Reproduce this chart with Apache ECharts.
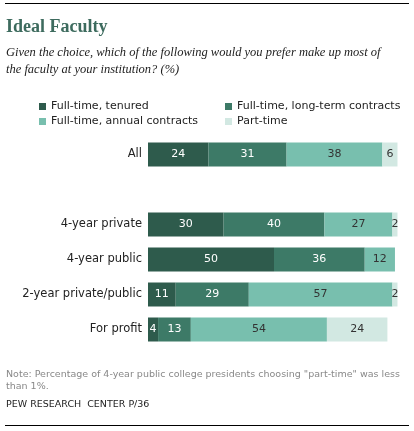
<!DOCTYPE html>
<html>
<head>
<meta charset="utf-8">
<script src="https://cdn.jsdelivr.net/npm/echarts@6/dist/echarts.min.js"></script>
<style>
  body { margin: 0; background: #fff; }
  #chart { width: 414px; height: 431px; }
</style>
</head>
<body>
<div id="chart"></div>
<script>
const categories = ["All", "", "4-year private", "4-year public", "2-year private/public", "For profit"];
const tenured = [24, null, 30, 50, 11, 4];
const longTerm = [31, null, 40, 36, 29, 13];
const annual = [38, null, 27, 12, 57, 54];
const partTime = [6, null, 2, null, 2, 24];

const names = ["Full-time, tenured", "Full-time, long-term contracts", "Full-time, annual contracts", "Part-time"];
const colors = ["#2e5b4c", "#3d7a67", "#78bfae", "#d2e8e2"];
const labelColors = ["#fff", "#fff", "#333", "#333"];
const values = [tenured, longTerm, annual, partTime];

const chart = echarts.init(document.getElementById("chart"));

const series = values.map((vals, i) => ({
  name: names[i],
  type: "bar",
  stack: "total",
  barWidth: 24,
  data: vals,
  itemStyle: { color: colors[i] },
  label: {
    show: true,
    position: "inside",
    color: labelColors[i],
    fontFamily: "DejaVu Sans",
    fontSize: 11,
    formatter: (p) => (p.value == null ? "" : p.value),
  },
}));

const legendText = { fontFamily: "DejaVu Sans", fontSize: 11, color: "#222" };

chart.setOption({
  animation: false,
  graphic: [
    { type: "rect", shape: { x: 5, y: 3, width: 404, height: 1 }, style: { fill: "#000" } },
    { type: "rect", shape: { x: 5, y: 425, width: 404, height: 1 }, style: { fill: "#000" } },
    { type: "text", left: 6, top: 18, style: { text: "Ideal Faculty", font: "bold 18px 'Liberation Serif', 'DejaVu Serif', serif", fill: "#3d6b5e" } },
    { type: "text", left: 6, top: 44, style: { text: "Given the choice, which of the following would you prefer make up most of\nthe faculty at your institution? (%)", font: "italic 12.5px 'Liberation Serif', serif", fill: "#222", lineHeight: 17 } },
    { type: "text", left: 6, top: 369, style: { text: "Note: Percentage of 4-year public college presidents choosing \"part-time\" was less\nthan 1%.", font: "9.5px 'DejaVu Sans', sans-serif", fill: "#888", lineHeight: 12 } },
    { type: "text", left: 6, top: 400, style: { text: "PEW RESEARCH  CENTER P/36", font: "9.5px 'DejaVu Sans', sans-serif", fill: "#222" } },
  ],
  legend: [
    { data: [names[0], names[2]], orient: "vertical", left: 34, top: 96, itemWidth: 7, itemHeight: 7, itemGap: 4, icon: "rect", textStyle: legendText, selectedMode: false },
    { data: [names[1], names[3]], orient: "vertical", left: 220, top: 96, itemWidth: 7, itemHeight: 7, itemGap: 4, icon: "rect", textStyle: legendText, selectedMode: false },
  ],
  grid: { left: 148, right: 14, top: 137, height: 210 },
  xAxis: { type: "value", min: 0, max: 100, show: false },
  yAxis: {
    type: "category",
    data: categories,
    inverse: true,
    axisLine: { show: false },
    axisTick: { show: false },
    axisLabel: { color: "#222", fontFamily: "DejaVu Sans", fontSize: 11.5, margin: 6 },
  },
  series,
});
</script>
</body>
</html>
